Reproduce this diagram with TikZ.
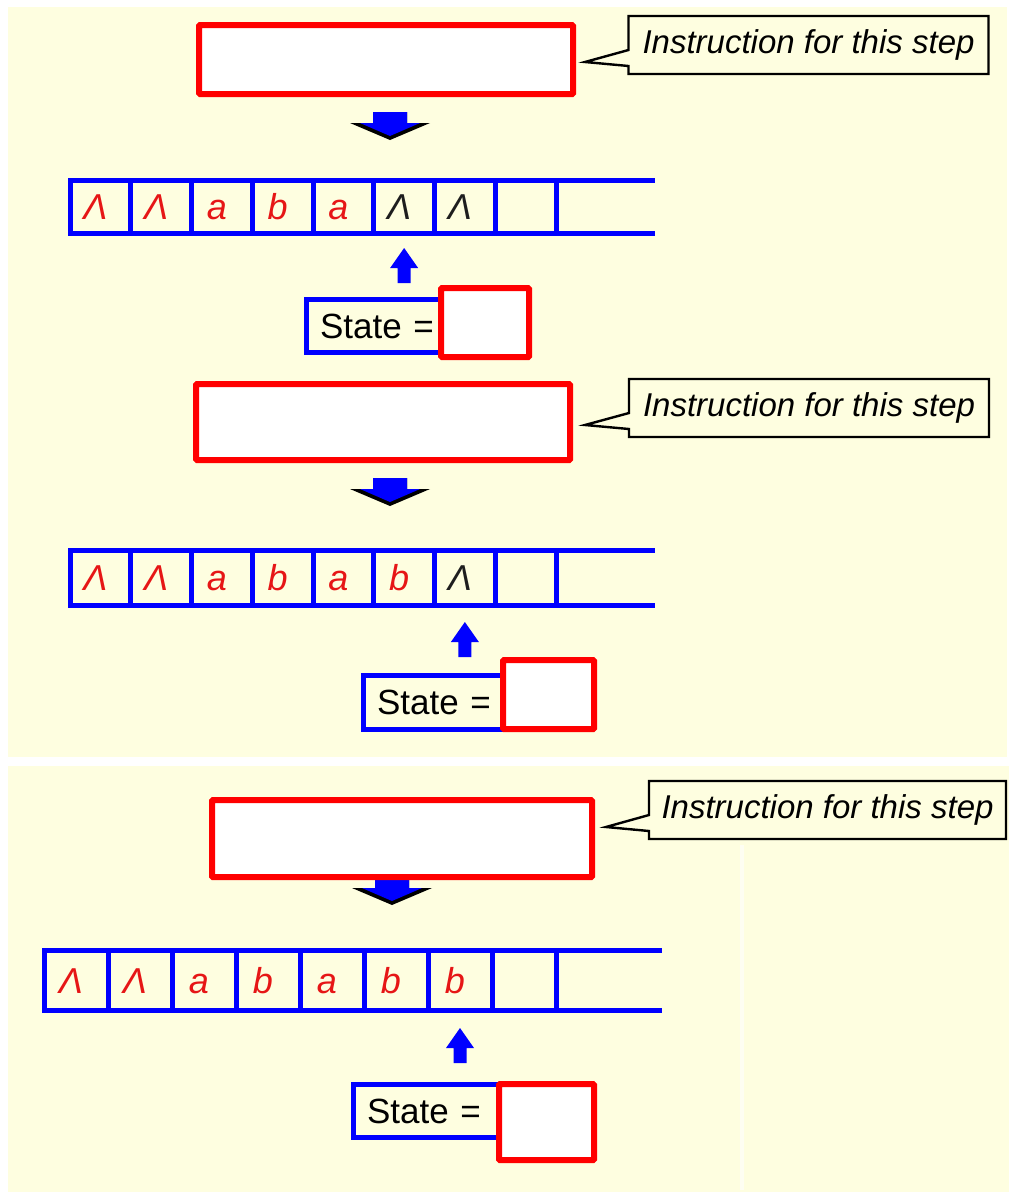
\documentclass[tikz,border=0pt]{standalone}
\usepackage{fontspec}
\setmainfont{Liberation Sans}
\usetikzlibrary{shapes.callouts,calc}
\definecolor{cream}{RGB}{254,254,224}
\definecolor{symred}{RGB}{230,22,22}
\definecolor{symblack}{RGB}{30,30,30}

\begin{document}
\begin{tikzpicture}[x=1pt, y=-1pt,
    instr/.style = {draw=red, line width=6pt, fill=white, rounded corners=1pt, inner sep=0pt, outer sep=0pt},
    note/.style = {rectangle callout, draw=black, line width=2.4pt, fill=cream, inner sep=0pt,
        callout pointer width=16pt, font=\fontsize{33}{38}\selectfont\itshape},
    cell/.style = {draw=blue, line width=5pt, inner sep=0pt, outer sep=0pt, text height=26pt, text depth=0pt,
        font=\fontsize{36}{40}\selectfont\itshape},
    tapeline/.style = {blue, line width=5pt},
    statebox/.style = {draw=blue, line width=5pt, fill=cream, inner xsep=14pt, inner ysep=0pt, outer sep=0pt,
        text width=136pt, align=left, font=\fontsize{35}{40}\selectfont},
    stateval/.style = {draw=red, line width=6pt, fill=white, rounded corners=1pt, inner sep=0pt, outer sep=0pt}]

    \useasboundingbox (0,0) rectangle (1009,1192);
    \fill[white] (0,0) rectangle (1009,1192);
    \fill[cream] (8,7) rectangle (1007,757);
    \fill[cream] (8,766) rectangle (1009,1192);
    \fill[white, opacity=0.6] (740,845) rectangle (744,1190);

    % down arrows
    \coordinate (da1) at (390,112);
    \coordinate (da2) at (390,478);
    \coordinate (da3) at (392,877);
    \foreach \d in {da1,da2,da3}{
        \fill[black] (\d) ++(-17,0) -- ++(34,0) -- ++(0,11) -- ++(23,0) -- ++(-40,17) -- ++(-40,-17) -- ++(23,0) -- cycle;
        \fill[blue] (\d) ++(-17,0) -- ++(34,0) -- ++(0,11) -- ++(13,0) -- ++(-30,13) -- ++(-30,-13) -- ++(13,0) -- cycle;
    }

    \node[instr, minimum width=374, minimum height=69] (ins1) at (386,59.5) {};
    \node[instr, minimum width=374, minimum height=76] (ins2) at (383,422) {};
    \node[instr, minimum width=380, minimum height=77] (ins3) at (402,838.5) {};

    \node[note, minimum width=360, minimum height=58, callout absolute pointer={(585,62)}] (note1) at (808.5,45) {Instruction for this step};
    \node[note, minimum width=360, minimum height=58, callout absolute pointer={(585,425)}] (note2) at (809,408) {Instruction for this step};
    \node[note, minimum width=357, minimum height=58, callout absolute pointer={(606,827)}] (note3) at (827.5,810) {Instruction for this step};

    % tapes
    \foreach \s/\c [count=\i] in {Λ/symred,Λ/symred,a/symred,b/symred,a/symred,Λ/symblack,Λ/symblack,/black}
        \node[cell, text=\c, minimum width=60.75, minimum height=53] (ta\i) at ({70+60.75*(\i-0.5)},206.5) {\s\hspace*{10pt}};
    \foreach \s/\c [count=\i] in {Λ/symred,Λ/symred,a/symred,b/symred,a/symred,b/symred,Λ/symblack,/black}
        \node[cell, text=\c, minimum width=60.75, minimum height=55] (tb\i) at ({70+60.75*(\i-0.5)},577.5) {\s\hspace*{10pt}};
    \foreach \s/\c [count=\i] in {Λ/symred,Λ/symred,a/symred,b/symred,a/symred,b/symred,b/symred,/black}
        \node[cell, text=\c, minimum width=64, minimum height=60] (tc\i) at ({44+64*(\i-0.5)},980) {\s\hspace*{10pt}};

    \coordinate (ta end) at (655,206.5);
    \coordinate (tb end) at (655,577.5);
    \coordinate (tc end) at (662,980);
    \foreach \t in {ta,tb,tc}{
        \draw[tapeline] (\t8.north east) -- (\t8.north east -| \t\space end);
        \draw[tapeline] (\t8.south east) -- (\t8.south east -| \t\space end);
    }

    % heads
    \foreach \h/\g in {ta6/15,tb7/17,tc7/18}{
        \fill[blue] ($(\h.south)+(0,\g)$) -- ++(14,20) -- ++(-7.5,0) -- ++(0,15) -- ++(-13,0) -- ++(0,-15) -- ++(-7.5,0) -- cycle;
    }

    \node[statebox, minimum height=53, anchor=west] (st1) at (306,326) {State =};
    \node[statebox, minimum height=54, anchor=west] (st2) at (363,702.5) {State =};
    \node[statebox, minimum height=53, anchor=west] (st3) at (353,1111) {State =};

    \node[stateval, minimum width=88, minimum height=69] (sv1) at (485,322.5) {};
    \node[stateval, minimum width=91, minimum height=69] (sv2) at (548.5,694.5) {};
    \node[stateval, minimum width=95, minimum height=76] (sv3) at (546.5,1122) {};
\end{tikzpicture}
\end{document}
